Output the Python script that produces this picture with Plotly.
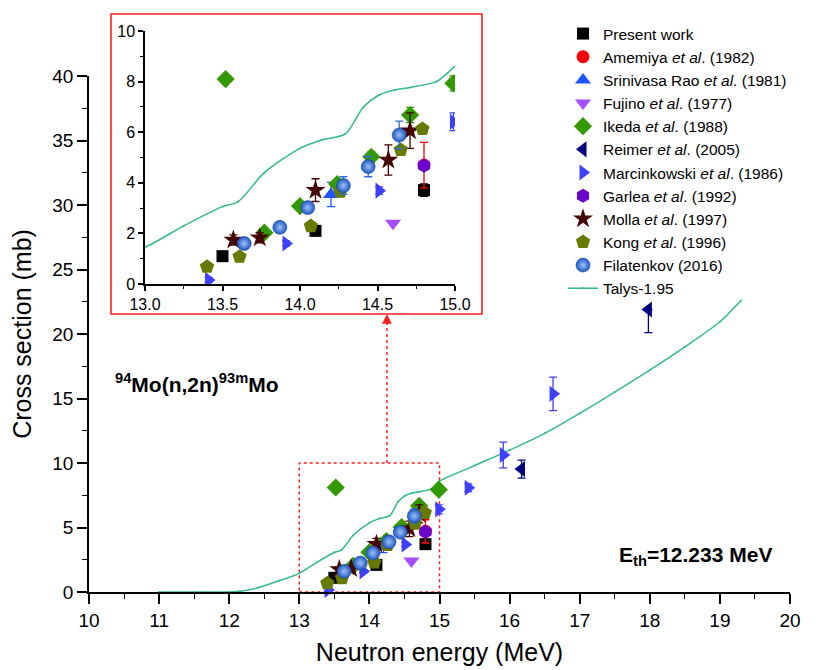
import plotly.graph_objects as go

# ---------------- data ----------------
pw_E = [13.50, 14.10, 14.80]; pw_s = [1.10, 2.10, 3.71]; pw_e = [0.10, 0.12, 0.25]
am_E = [14.80]; am_s = [4.70]; am_e = [0.90]
sr_E = [14.20]; sr_s = [3.54]; sr_e = [0.48]
fu_E = [14.60]; fu_s = [2.40]
ik_E = [13.52, 13.77, 14.00, 14.24, 14.46, 14.71, 14.99]
ik_s = [8.10, 2.03, 3.08, 3.95, 5.03, 6.68, 7.93]
ik_e = [0.10, 0.10, 0.10, 0.15, 0.20, 0.30, 0.30]
re_E = [16.17, 17.98]; re_s = [9.53, 21.90]; re_ep = [0.70, 0.0]; re_em = [0.70, 1.80]
ma_E = [13.41, 13.91, 14.51, 14.99, 15.41, 15.91, 16.62]
ma_s = [0.16, 1.60, 3.69, 6.41, 8.08, 10.62, 15.36]
ma_e = [0.10, 0.10, 0.15, 0.35, 0.30, 1.00, 1.30]
ga_E = [14.80]; ga_s = [4.68]
mo_E = [13.57, 13.74, 14.10, 14.57, 14.71]; mo_s = [1.74, 1.83, 3.71, 4.90, 6.06]
mo_e = [0.20, 0.20, 0.45, 0.60, 0.70]
ko_E = [13.40, 13.61, 14.07, 14.26, 14.65, 14.79]; ko_s = [0.68, 1.08, 2.29, 3.65, 5.30, 6.13]
fi_E = [13.64, 13.87, 14.05, 14.28, 14.44, 14.64]; fi_s = [1.60, 2.24, 3.02, 3.89, 4.64, 5.89]
fi_e = [0.15, 0.15, 0.20, 0.35, 0.40, 0.55]
talys_E = [11.0, 11.5, 12.0, 12.15, 12.4, 12.7, 13.0, 13.25, 13.5, 13.6, 13.77, 14.0, 14.14,
           14.29, 14.41, 14.51, 14.61, 14.71, 14.88, 14.95, 15.0, 15.5, 16.0, 16.5, 17.0, 17.5,
           18.0, 18.5, 19.0, 19.3]
talys_s = [0.0, 0.0, 0.0, 0.05, 0.32, 0.85, 1.45, 2.3, 3.06, 3.25, 4.4, 5.36, 5.69,
           5.92, 7.0, 7.47, 7.67, 7.77, 8.0, 8.33, 8.6, 9.8, 11.0, 12.3, 13.85, 15.5,
           17.2, 19.0, 20.95, 22.6]

series = [
    ("Present work", pw_E, pw_s, pw_e, None, "square", "#000000", 12),
    ("Amemiya <i>et al</i>. (1982)", am_E, am_s, am_e, None, "circle", "#ff0000", 13),
    ("Srinivasa Rao <i>et al</i>. (1981)", sr_E, sr_s, sr_e, None, "triangle-up", "#1f55ff", 14),
    ("Fujino <i>et al</i>. (1977)", fu_E, fu_s, None, None, "triangle-down", "#a64dff", 14),
    ("Ikeda <i>et al</i>. (1988)", ik_E, ik_s, ik_e, None, "diamond", "#339900", 14),
    ("Reimer <i>et al</i>. (2005)", re_E, re_s, re_ep, re_em, "triangle-left", "#000080", 14),
    ("Marcinkowski <i>et al</i>. (1986)", ma_E, ma_s, ma_e, None, "triangle-right", "#3f3fff", 14),
    ("Garlea <i>et al</i>. (1992)", ga_E, ga_s, None, None, "hexagon", "#6a00cc", 14),
    ("Molla <i>et al</i>. (1997)", mo_E, mo_s, mo_e, None, "star", "#450000", 15),
    ("Kong <i>et al</i>. (1996)", ko_E, ko_s, None, None, "pentagon", "#667a00", 15),
    ("Filatenkov (2016)", fi_E, fi_s, fi_e, None, "circle", "#2a6fd6", 14),
]

# ---------------- geometry (paper coords) ----------------
W, H = 824, 670
def px_x(p): return p / W
def px_y(p): return (H - p) / H

main_xd = [px_x(89), px_x(790)]
main_yd = [px_y(592), px_y(76)]
ins_xd = [px_x(145), px_x(455)]
ins_yd = [px_y(284), px_y(31)]

fig = go.Figure()

talys_line = dict(color="#33b98c", width=1.5, shape="spline", smoothing=0.8)
fig.add_trace(go.Scatter(x=talys_E, y=talys_s, mode="lines+markers", name="Talys-1.95",
                         line=talys_line, marker=dict(size=2, color="#33b98c"),
                         xaxis="x", yaxis="y", legendrank=1100))
fig.add_trace(go.Scatter(x=talys_E, y=talys_s, mode="lines+markers", showlegend=False,
                         line=talys_line, marker=dict(size=2, color="#33b98c"),
                         xaxis="x2", yaxis="y2"))

for i, (name, E, s, ep, em, sym, col, sz) in enumerate(series):
    err = None
    if ep is not None:
        err = dict(type="data", array=ep, color=col, thickness=1.3, width=4, visible=True)
        if em is not None:
            err["symmetric"] = False
            err["arrayminus"] = em
    mk = dict(symbol=sym, color=col, size=sz, line=dict(width=0))
    if name.startswith("Filatenkov"):
        mk = dict(symbol="circle", color="#1d58c4", size=sz,
                  gradient=dict(type="radial", color="#9fc0f4"),
                  line=dict(width=0.6, color="#1a4a9a"))
    for ax, ay, show in (("x", "y", True), ("x2", "y2", False)):
        fig.add_trace(go.Scatter(x=E, y=s, mode="markers", name=name, marker=mk,
                                 error_y=err, xaxis=ax, yaxis=ay, showlegend=show,
                                 legendrank=100 + i * 10,
                                 cliponaxis=(ax == "x2")))

axis_common = dict(showgrid=False, zeroline=False, showline=True, linecolor="black",
                   linewidth=1.5, ticks="outside", tickcolor="black", tickwidth=1.5,
                   color="black")

fig.update_layout(
    width=W, height=H, margin=dict(l=0, r=0, t=0, b=0, autoexpand=False),
    paper_bgcolor="white", plot_bgcolor="rgba(0,0,0,0)",
    font=dict(family="Liberation Sans, Arial, sans-serif", color="black"),
    showlegend=True,
    legend=dict(x=px_x(563), y=px_y(17), xanchor="left", yanchor="top",
                font=dict(size=15.5), bgcolor="rgba(0,0,0,0)", tracegroupgap=0),
    xaxis=dict(domain=main_xd, anchor="y", range=[10, 20], tick0=10, dtick=1,
               ticklen=10, tickfont=dict(size=19),
               minor=dict(dtick=0.5, ticks="outside", ticklen=5, tickwidth=1.2, tickcolor="black"),
               title=dict(text="Neutron energy (MeV)", font=dict(size=25), standoff=14),
               **axis_common),
    yaxis=dict(domain=main_yd, anchor="x", range=[0, 40], tick0=0, dtick=5,
               ticklen=10, tickfont=dict(size=19),
               minor=dict(dtick=2.5, ticks="outside", ticklen=5, tickwidth=1.2, tickcolor="black"),
               title=dict(text="Cross section (mb)", font=dict(size=25), standoff=14),
               **axis_common),
    xaxis2=dict(domain=ins_xd, anchor="y2", range=[13, 15], tick0=13, dtick=0.5,
                tickformat=".1f", ticklen=5, tickfont=dict(size=16),
                minor=dict(dtick=0.25, ticks="outside", ticklen=3, tickwidth=1.2, tickcolor="black"),
                **axis_common),
    yaxis2=dict(domain=ins_yd, anchor="x2", range=[0, 10], tick0=0, dtick=2,
                ticklen=5, tickfont=dict(size=16),
                minor=dict(dtick=1, ticks="outside", ticklen=3, tickwidth=1.2, tickcolor="black"),
                **axis_common),
)

# shapes: inset frame, zoom box, dotted connector
y10_paper = main_yd[0] + (10 / 40) * (main_yd[1] - main_yd[0])
box_bottom = px_y(314)
fig.add_shape(type="rect", xref="paper", yref="paper", x0=px_x(111), x1=px_x(482),
              y0=box_bottom, y1=px_y(14), line=dict(color="#ff2020", width=1.6),
              fillcolor="rgba(0,0,0,0)", layer="below")
fig.add_shape(type="rect", xref="x", yref="y", x0=13, x1=15, y0=0, y1=10,
              line=dict(color="#ff2020", width=1.5, dash="dot"), layer="below")
fig.add_shape(type="line", xref="x", yref="paper", x0=14.25, x1=14.25,
              y0=y10_paper, y1=box_bottom - 0.012,
              line=dict(color="#ff2020", width=1.5, dash="dot"))
fig.add_annotation(x=14.25, y=box_bottom, xref="x", yref="paper", text="",
                   showarrow=True, ax=0, ay=10, arrowhead=2, arrowsize=1.3,
                   arrowwidth=1.5, arrowcolor="#ff2020")

# text labels
fig.add_annotation(x=px_x(113), y=px_y(383), xref="paper", yref="paper",
                   xanchor="left", yanchor="middle", showarrow=False,
                   text="<b><sup>94</sup>Mo(n,2n)<sup>93m</sup>Mo</b>",
                   font=dict(size=21, color="black"))
fig.add_annotation(x=px_x(617), y=px_y(556), xref="paper", yref="paper",
                   xanchor="left", yanchor="middle", showarrow=False,
                   text="<b>E<sub>th</sub>=12.233 MeV</b>",
                   font=dict(size=21, color="black"))

fig.write_html(
    "out.html",
    config=dict(displayModeBar=False),
    post_script=("document.body.style.margin='0px';"
                 "document.body.style.overflow='hidden';"
                 "document.documentElement.style.overflow='hidden';"),
)
